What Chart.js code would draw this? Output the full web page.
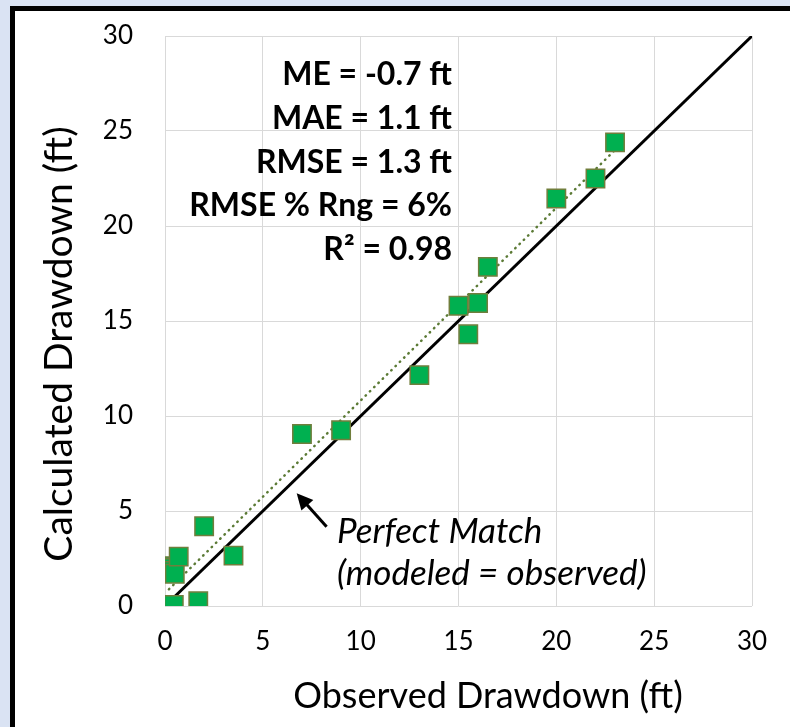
<!DOCTYPE html>
<html>
<head>
<meta charset="utf-8">
<script src="https://cdn.jsdelivr.net/npm/chart.js@4.4.1/dist/chart.umd.min.js"></script>
<style>
  body { margin: 0; background: #dae3f3; width: 790px; height: 727px; overflow: hidden; }
  #frame { position: absolute; left: 10px; top: 6px; width: 775px; height: 716px;
           border-left: 5px solid #000; border-top: 5px solid #000; background: #fff; }
  canvas { display: block; }
</style>
</head>
<body>
<div id="frame"><canvas id="chart" width="775" height="716"></canvas></div>
<script>
// observed vs calculated drawdown (ft)
var observed   = [0.2, 0.45, 0.45, 0.45, 0.45, 0.5, 0.7, 1.7, 2.0, 3.5, 7.0, 9.0, 13.0, 15.0, 15.5, 16.0, 16.5, 20.0, 22.0, 23.0];
var calculated = [0.05, 0.05, 2.1, 2.0, 1.85, 1.7, 2.6, 0.25, 4.2, 2.65, 9.05, 9.25, 12.15, 15.8, 14.3, 15.95, 17.85, 21.45, 22.5, 24.4];

// 1:1 line and excel linear trendline end points
var perfectX = [0, 30];
var perfectY = [0, 30];
var trendX = [0.2, 23.0];
var trendY = [0.88, 24.0];

var ticks = [0, 5, 10, 15, 20, 25, 30];
var statLines = ['ME = -0.7 ft', 'MAE = 1.1 ft', 'RMSE = 1.3 ft', 'RMSE % Rng = 6%', 'R\u00B2 = 0.98'];
var noteLines = ['Perfect Match', '(modeled = observed)'];
var xTitle = 'Observed Drawdown (ft)';
var yTitle = 'Calculated Drawdown (ft)';

function toPoints(xs, ys) {
    var pts = [];
    for (var i in xs) {
        pts.push({ x: xs[i], y: ys[i] });
    }
    return pts;
}

var overlay = {
    id: 'overlay',
    afterDraw: function (chart) {
        var ctx = chart.ctx;
        var sx = chart.scales.x, sy = chart.scales.y;
        ctx.save();
        ctx.fillStyle = '#000';
        ctx.strokeStyle = '#000';

        // stats block
        ctx.font = 'bold 32px Lato';
        ctx.textAlign = 'right';
        ctx.textBaseline = 'alphabetic';
        for (var i = 0; i < statLines.length; i++) {
            ctx.fillText(statLines[i], 437, 74 + i * 43.75);
        }

        // arrow pointing at the 1:1 line
        var tipX = sx.getPixelForValue(6.73), tipY = sy.getPixelForValue(5.93);
        var tailX = sx.getPixelForValue(8.26), tailY = sy.getPixelForValue(4.17);
        var ang = Math.atan2(tipY - tailY, tipX - tailX);
        ctx.lineWidth = 3;
        ctx.beginPath();
        ctx.moveTo(tailX, tailY);
        ctx.lineTo(tipX - 12 * Math.cos(ang), tipY - 12 * Math.sin(ang));
        ctx.stroke();
        ctx.beginPath();
        ctx.moveTo(tipX, tipY);
        ctx.lineTo(tipX - 16 * Math.cos(ang) + 8 * Math.sin(ang), tipY - 16 * Math.sin(ang) - 8 * Math.cos(ang));
        ctx.lineTo(tipX - 16 * Math.cos(ang) - 8 * Math.sin(ang), tipY - 16 * Math.sin(ang) + 8 * Math.cos(ang));
        ctx.closePath();
        ctx.fill();

        // note text
        ctx.font = 'italic 35px Lato';
        ctx.textAlign = 'left';
        ctx.fillText(noteLines[0], sx.getPixelForValue(8.79), sy.getPixelForValue(3.32));
        ctx.fillText(noteLines[1], sx.getPixelForValue(8.79), sy.getPixelForValue(1.1));

        // axis titles
        ctx.font = '36px Lato';
        ctx.textAlign = 'center';
        ctx.fillText(xTitle, 473, 697);
        ctx.font = '39px Lato';
        ctx.translate(56.7, 333);
        ctx.rotate(-Math.PI / 2);
        ctx.fillText(yTitle, 0, 0);
        ctx.restore();
    }
};

var tickFont = { family: 'Lato', size: 26 };

new Chart(document.getElementById('chart'), {
    type: 'scatter',
    data: {
        datasets: [
            {
                label: 'Drawdown',
                data: toPoints(observed, calculated),
                pointStyle: 'rect',
                pointRadius: 13,
                pointHoverRadius: 13,
                backgroundColor: '#00b050',
                borderColor: '#707e3c',
                borderWidth: 1.5,
                order: 0
            },
            {
                label: 'Trend',
                data: toPoints(trendX, trendY),
                showLine: true,
                pointRadius: 0,
                borderColor: '#5b7a35',
                borderWidth: 2.5,
                borderDash: [0.5, 5.5],
                borderCapStyle: 'round',
                order: 1
            },
            {
                label: 'Perfect Match',
                data: toPoints(perfectX, perfectY),
                showLine: true,
                pointRadius: 0,
                borderColor: '#000',
                borderWidth: 3,
                order: 2
            }
        ]
    },
    options: {
        responsive: false,
        animation: false,
        layout: { padding: { left: 0, top: 25, right: 38, bottom: 0 } },
        plugins: { legend: { display: false }, tooltip: { enabled: false } },
        scales: {
            x: {
                min: 0, max: 30,
                afterBuildTicks: function (s) { s.ticks = ticks.map(function (v) { return { value: v }; }); },
                afterFit: function (s) { s.height = 121; s.paddingLeft = 0; s.paddingRight = 0; },
                grid: { color: '#d9d9d9', lineWidth: 1, drawTicks: false },
                border: { display: false },
                ticks: { color: '#000', font: tickFont, padding: 20 }
            },
            y: {
                min: 0, max: 30,
                afterBuildTicks: function (s) { s.ticks = ticks.map(function (v) { return { value: v }; }); },
                afterFit: function (s) { s.width = 150; s.paddingTop = 0; s.paddingBottom = 0; },
                grid: { color: '#d9d9d9', lineWidth: 1, drawTicks: false },
                border: { display: false },
                ticks: { color: '#000', font: tickFont, padding: 32 }
            }
        }
    },
    plugins: [overlay]
});
</script>
</body>
</html>
